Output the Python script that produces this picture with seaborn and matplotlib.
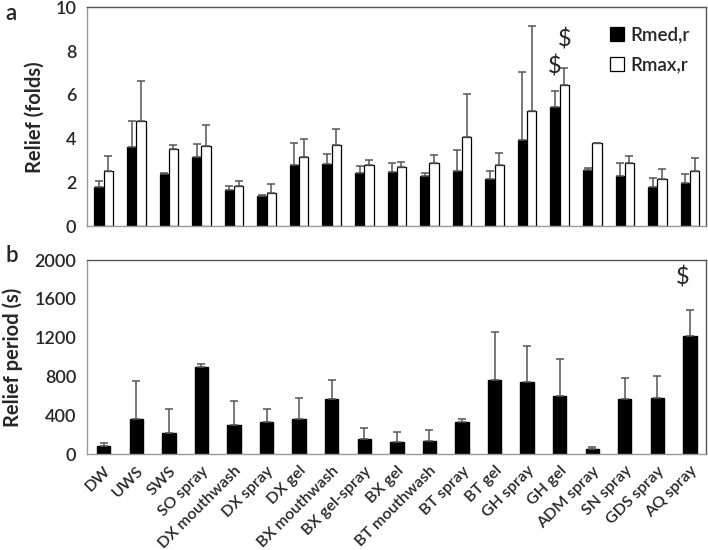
import numpy as np
import pandas as pd
import seaborn as sns
import matplotlib.pyplot as plt

treatments = ['DW', 'UWS', 'SWS', 'SO spray', 'DX mouthwash', 'DX spray', 'DX gel',
              'BX mouthwash', 'BX gel-spray', 'BX gel', 'BT mouthwash', 'BT spray',
              'BT gel', 'GH spray', 'GH gel', 'ADM spray', 'SN spray', 'GDS spray',
              'AQ spray']

# panel a: relief (folds), mean and upper error
rmed = [1.80, 3.63, 2.40, 3.14, 1.67, 1.37, 2.78, 2.82, 2.44, 2.46, 2.27,
        2.54, 2.14, 3.92, 5.45, 2.55, 2.28, 1.80, 1.96]
rmed_err = [0.26, 1.17, 0.04, 0.63, 0.18, 0.07, 1.04, 0.48, 0.31, 0.44, 0.16,
            0.93, 0.38, 3.14, 0.74, 0.10, 0.61, 0.39, 0.44]
rmax = [2.53, 4.80, 3.52, 3.64, 1.81, 1.50, 3.18, 3.70, 2.80, 2.72, 2.88,
        4.08, 2.77, 5.24, 6.44, 3.79, 2.89, 2.13, 2.53]
rmax_err = [0.69, 1.85, 0.20, 0.98, 0.25, 0.44, 0.82, 0.76, 0.22, 0.21, 0.37,
            1.95, 0.56, 3.90, 0.78, 0.0, 0.32, 0.47, 0.60]

# panel b: relief period (s)
period = [78, 365, 212, 902, 300, 330, 365, 563, 157, 126, 136, 326, 765, 738,
          596, 55, 563, 580, 1214]
period_err = [38, 388, 255, 22, 250, 137, 212, 196, 113, 100, 110, 32, 492, 378,
              388, 17, 216, 224, 276]

sns.set_style('white')
plt.rcParams['font.family'] = ['Lato', 'DejaVu Sans']

df_a = pd.DataFrame({'Treatment': treatments * 2,
                     'Measure': ['Rmed,r'] * len(treatments) + ['Rmax,r'] * len(treatments),
                     'Value': rmed + rmax})
df_b = pd.DataFrame({'Treatment': treatments, 'Period': period})

fig = plt.figure(figsize=(7.08, 5.5), dpi=100)
ax1 = fig.add_axes([0.1235, 0.589, 0.874, 0.3975])
ax2 = fig.add_axes([0.1235, 0.1745, 0.874, 0.3527])

err_kw = dict(fmt='none', ecolor='#555555', elinewidth=1.1, capsize=3, capthick=1.1)

# -------- panel a
sns.barplot(data=df_a, x='Treatment', y='Value', hue='Measure',
            palette={'Rmed,r': 'black', 'Rmax,r': 'white'}, edgecolor='black',
            linewidth=0.9, width=0.57, errorbar=None, ax=ax1)
for cont, errs in zip(ax1.containers, [rmed_err, rmax_err]):
    xs = [b.get_x() + b.get_width() / 2 for b in cont]
    ys = [b.get_height() for b in cont]
    ax1.errorbar(xs, ys, yerr=[np.zeros(len(errs)), errs], zorder=1, **err_kw)

ax1.set_ylim(0, 10)
ax1.set_yticks(range(0, 11, 2))
ax1.set_ylabel('Relief (folds)', fontsize=14.5, fontweight='bold', labelpad=8)
ax1.set_xlabel('')
ax1.set_xticks(range(len(treatments)))
ax1.set_xticklabels([])
ax1.legend(loc='upper right', frameon=False, handlelength=0.75,
           handleheight=0.75, handletextpad=0.3, labelspacing=0.7,
           bbox_to_anchor=(1.0, 0.99), prop={'weight': 'semibold', 'size': 13.5})
ax1.text(14 - 0.14, 7.3, '$', ha='center', va='center', fontsize=17)
ax1.text(14 + 0.16, 8.55, '$', ha='center', va='center', fontsize=17)

# -------- panel b
sns.barplot(data=df_b, x='Treatment', y='Period', color='black', width=0.41,
            edgecolor='black', errorbar=None, ax=ax2)
xs = [b.get_x() + b.get_width() / 2 for b in ax2.containers[0]]
ax2.errorbar(xs, period, yerr=[np.zeros(len(period)), period_err], zorder=1, **err_kw)
ax2.set_ylim(0, 2000)
ax2.set_yticks(range(0, 2001, 400))
ax2.set_ylabel('Relief period (s)', fontsize=14.5, fontweight='bold', labelpad=8)
ax2.set_xlabel('')
ax2.set_xticks(range(len(treatments)))
ax2.set_xticklabels(treatments, rotation=45, ha='right', rotation_mode='anchor',
                    fontsize=11.5, fontweight='semibold')
ax2.text(17.78, 1815, '$', ha='center', va='center', fontsize=17)

for ax in (ax1, ax2):
    ax.set_xlim(-0.5, len(treatments) - 0.5)
    ax.set_xticks(np.arange(-0.5, len(treatments)), minor=True)
    ax.tick_params(axis='x', which='major', length=0, pad=7)
    ax.tick_params(axis='x', which='minor', length=5, color='#999999', direction='out')
    ax.tick_params(axis='y', length=4, color='#999999', labelsize=13, pad=4)
    for lab in ax.get_yticklabels():
        lab.set_fontweight('semibold')
    for s in ('left', 'bottom'):
        ax.spines[s].set_color('#999999')
    for s in ('top', 'right'):
        ax.spines[s].set_color('#555555')
    for sp in ax.spines.values():
        sp.set_linewidth(1.0)
ax1.tick_params(axis='x', which='minor', color='#dddddd')

fig.text(0.008, 0.975, 'a', fontsize=16, fontweight='semibold', ha='left', va='center')
fig.text(0.008, 0.535, 'b', fontsize=16, fontweight='semibold', ha='left', va='center')

fig.savefig('out.png', dpi=100)
